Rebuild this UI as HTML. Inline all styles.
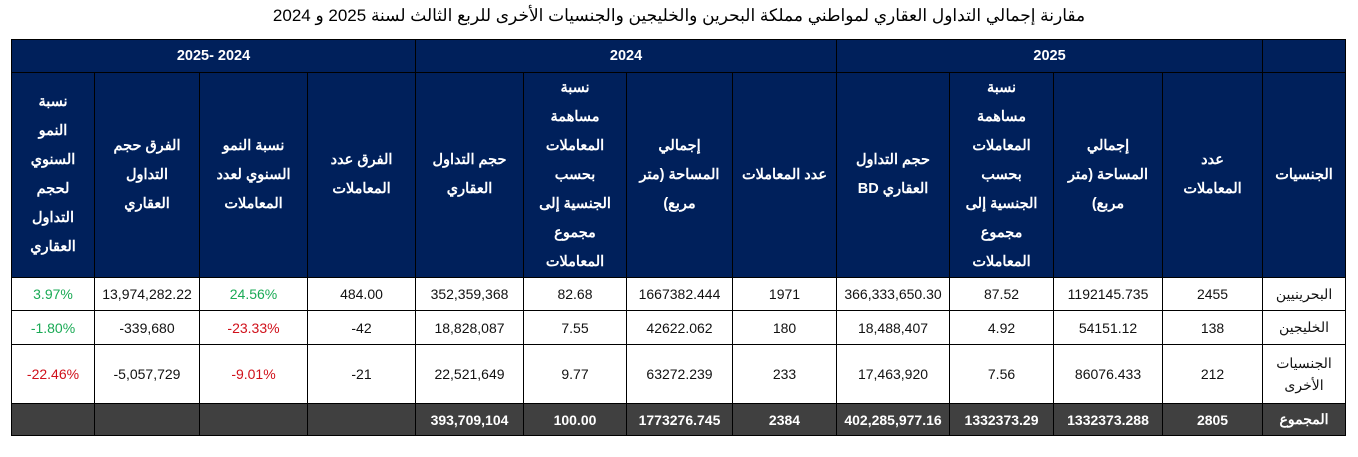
<!DOCTYPE html>
<html><head><meta charset="utf-8"><style>
body{margin:0;width:1358px;height:457px;background:#fff;font-family:"Liberation Sans","Noto Sans CJK SC",sans-serif;position:relative;overflow:hidden}
.t{position:absolute;top:6px;left:0;width:1358px;text-align:center;font-size:17px;direction:rtl;color:#000}
table{position:absolute;left:11px;top:39px;border-collapse:collapse;table-layout:fixed;width:1335px}
td{border:1.5px solid #000;text-align:center;padding:0;font-size:14px;color:#111}
.h td{background:#00205b;color:#fff;font-weight:bold;font-size:14.5px;line-height:29px;direction:rtl;white-space:nowrap}
.h1 td{height:32px}
.h2 td{height:204px}
.g{color:#1aaa55}.r{color:#d0101a}
.tot td{background:#404040;color:#fff;font-weight:bold;height:31px}
.n{direction:rtl}
</style></head><body>
<div class="t">مقارنة إجمالي التداول العقاري لمواطني مملكة البحرين والخليجين والجنسيات الأخرى للربع الثالث لسنة 2025 و 2024</div>
<table>
<colgroup><col style="width:83px"><col style="width:105px"><col style="width:108px"><col style="width:108px"><col style="width:108px"><col style="width:103px"><col style="width:106px"><col style="width:104px"><col style="width:113px"><col style="width:104px"><col style="width:109px"><col style="width:100px"><col style="width:83px"></colgroup>
<tr class="h h1"><td colspan="4" style="direction:ltr">2025- 2024</td><td colspan="4">2024</td><td colspan="4">2025</td><td></td></tr>
<tr class="h h2">
<td>نسبة<br>النمو<br>السنوي<br>لحجم<br>التداول<br>العقاري</td>
<td>الفرق حجم<br>التداول<br>العقاري</td>
<td>نسبة النمو<br>السنوي لعدد<br>المعاملات</td>
<td>الفرق عدد<br>المعاملات</td>
<td>حجم التداول<br>العقاري</td>
<td>نسبة<br>مساهمة<br>المعاملات<br>بحسب<br>الجنسية إلى<br>مجموع<br>المعاملات</td>
<td>إجمالي<br>المساحة (متر<br>مربع)</td>
<td>عدد المعاملات</td>
<td>حجم التداول<br>العقاري BD</td>
<td>نسبة<br>مساهمة<br>المعاملات<br>بحسب<br>الجنسية إلى<br>مجموع<br>المعاملات</td>
<td>إجمالي<br>المساحة (متر<br>مربع)</td>
<td>عدد<br>المعاملات</td>
<td>الجنسيات</td></tr>
<tr style="height:33px"><td class="g">3.97%</td><td>13,974,282.22</td><td class="g">24.56%</td><td>484.00</td><td>352,359,368</td><td>82.68</td><td>1667382.444</td><td>1971</td><td>366,333,650.30</td><td>87.52</td><td>1192145.735</td><td>2455</td><td class="n">البحرينيين</td></tr>
<tr style="height:34px"><td class="g">-1.80%</td><td>-339,680</td><td class="r">-23.33%</td><td>-42</td><td>18,828,087</td><td>7.55</td><td>42622.062</td><td>180</td><td>18,488,407</td><td>4.92</td><td>54151.12</td><td>138</td><td class="n">الخليجين</td></tr>
<tr style="height:59px"><td class="r">-22.46%</td><td>-5,057,729</td><td class="r">-9.01%</td><td>-21</td><td>22,521,649</td><td>9.77</td><td>63272.239</td><td>233</td><td>17,463,920</td><td>7.56</td><td>86076.433</td><td>212</td><td class="n" style="line-height:22px">الجنسيات الأخرى</td></tr>
<tr class="tot"><td></td><td></td><td></td><td></td><td>393,709,104</td><td>100.00</td><td>1773276.745</td><td>2384</td><td>402,285,977.16</td><td>1332373.29</td><td>1332373.288</td><td>2805</td><td class="n">المجموع</td></tr>
</table>
</body></html>
